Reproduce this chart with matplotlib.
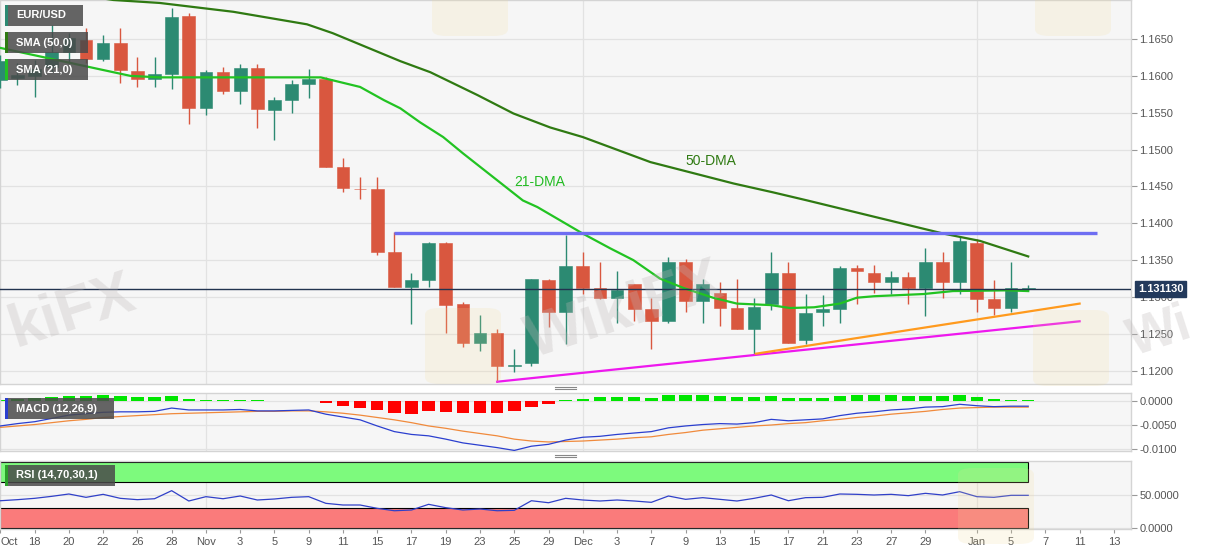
import matplotlib
matplotlib.use("Agg")
import matplotlib.pyplot as plt
from matplotlib.patches import Rectangle, FancyBboxPatch
from matplotlib.ticker import FormatStrFormatter
from matplotlib.transforms import blended_transform_factory

plt.rcParams['font.family'] = ['Liberation Sans', 'DejaVu Sans']

# daily candles, trading days Oct 14 2021 .. Jan 6 2022 (index = position)
opens = [1.1594, 1.1597, 1.1600, 1.1612, 1.1632, 1.1649, 1.1623, 1.1645, 1.1607, 1.1596,
         1.1602, 1.1681, 1.1556, 1.1605, 1.1579, 1.1611, 1.1554, 1.1567, 1.1589, 1.1596,
         1.1477, 1.1447, 1.1446, 1.1361, 1.1314, 1.1323, 1.1373, 1.1290, 1.1237, 1.1251,
         1.1206, 1.1210, 1.1323, 1.1279, 1.1342, 1.1312, 1.1299, 1.1317, 1.1283, 1.1268,
         1.1348, 1.1294, 1.1305, 1.1285, 1.1256, 1.1291, 1.1333, 1.1242, 1.1279, 1.1283,
         1.1339, 1.1333, 1.1320, 1.1327, 1.1312, 1.1348, 1.1320, 1.1373, 1.1297, 1.1285,
         1.1311]
highs = [1.1628, 1.1617, 1.1621, 1.1669, 1.1658, 1.1665, 1.1655, 1.1665, 1.1626, 1.1626,
         1.1692, 1.1685, 1.1608, 1.1612, 1.1616, 1.1616, 1.1571, 1.1594, 1.1609, 1.1598,
         1.1488, 1.1463, 1.1463, 1.1388, 1.1333, 1.1374, 1.1374, 1.1293, 1.1276, 1.1256,
         1.1230, 1.1325, 1.1324, 1.1384, 1.1361, 1.1348, 1.1335, 1.1317, 1.1299, 1.1354,
         1.1351, 1.1325, 1.1320, 1.1324, 1.1299, 1.1361, 1.1348, 1.1304, 1.1302, 1.1342,
         1.1343, 1.1344, 1.1335, 1.1334, 1.1367, 1.1361, 1.1382, 1.1378, 1.1323, 1.1347,
         1.1316]
lows = [1.1583, 1.1587, 1.1571, 1.1605, 1.1619, 1.1617, 1.1620, 1.1590, 1.1585, 1.1585,
        1.1582, 1.1535, 1.1547, 1.1575, 1.1562, 1.1529, 1.1513, 1.1549, 1.1570, 1.1476,
        1.1442, 1.1433, 1.1357, 1.1313, 1.1264, 1.1314, 1.1251, 1.1232, 1.1227, 1.1185,
        1.1198, 1.1207, 1.1259, 1.1236, 1.1304, 1.1297, 1.1265, 1.1267, 1.1229, 1.1265,
        1.1279, 1.1265, 1.1261, 1.1256, 1.1223, 1.1282, 1.1237, 1.1236, 1.1261, 1.1265,
        1.1291, 1.1305, 1.1304, 1.1290, 1.1274, 1.1299, 1.1304, 1.1280, 1.1275, 1.1279,
        1.1310]
closes = [1.1620, 1.1601, 1.1610, 1.1632, 1.1651, 1.1623, 1.1645, 1.1608, 1.1596, 1.1602,
          1.1680, 1.1556, 1.1605, 1.1579, 1.1611, 1.1555, 1.1567, 1.1589, 1.1596, 1.1477,
          1.1448, 1.1446, 1.1361, 1.1313, 1.1323, 1.1373, 1.1289, 1.1237, 1.1251, 1.1206,
          1.1208, 1.1324, 1.1279, 1.1342, 1.1312, 1.1298, 1.1309, 1.1283, 1.1268, 1.1348,
          1.1295, 1.1317, 1.1285, 1.1256, 1.1287, 1.1333, 1.1238, 1.1278, 1.1283, 1.1339,
          1.1335, 1.1320, 1.1327, 1.1312, 1.1348, 1.1320, 1.1376, 1.1297, 1.1285, 1.1312,
          1.1312]
last_price = 1.131130

# moving averages (position, value)
sma50_x = [4, 6.6, 9.3, 13.6, 17.9, 19.4, 23.35, 25.1, 27.85, 29.95, 32.1, 34.0, 37.95,
           42.8, 45.1, 47.1, 55.05, 57.2, 60.0]
sma50_y = [1.1712, 1.1703, 1.1699, 1.1687, 1.1670, 1.1658, 1.1620, 1.1605, 1.1574, 1.1549,
           1.1530, 1.1517, 1.1483, 1.1454, 1.1442, 1.1431, 1.1386, 1.1376, 1.1355]
sma21_x = [0, 7.6, 9.3, 18.7, 21.0, 22.4, 23.35, 24.5, 25.85, 27.0, 30.5, 31.35, 34.0, 35.6,
           36.95, 38.5, 39.9, 41.6, 43.0, 44.95, 46.1, 47.5, 49.0, 50.0, 51.0, 53.9, 55.6,
           58.8, 60.0]
sma21_y = [1.1638, 1.1600, 1.1598, 1.1598, 1.1585, 1.1567, 1.1556, 1.1537, 1.1517, 1.1495,
           1.1431, 1.1422, 1.1386, 1.1366, 1.1350, 1.1325, 1.1312, 1.1299, 1.1291, 1.1289,
           1.1285, 1.1286, 1.1291, 1.1299, 1.1301, 1.1304, 1.1308, 1.1309, 1.1308]

# trend lines
resist_x, resist_y = [23, 64.0], [1.1387, 1.1387]
support1_x, support1_y = [29, 63.0], [1.1185, 1.1267]
support2_x, support2_y = [44.1, 63.0], [1.1223, 1.1291]

# MACD (12,26,9)
macd = [-0.0052, -0.0047, -0.0043, -0.0036, -0.0029, -0.0026, -0.0023, -0.0022, -0.0022, -0.0021,
        -0.0014, -0.0018, -0.0018, -0.0018, -0.0017, -0.0020, -0.0020, -0.0019, -0.0018, -0.0027,
        -0.0033, -0.0039, -0.0052, -0.0064, -0.0070, -0.0073, -0.0080, -0.0088, -0.0093, -0.0098,
        -0.0104, -0.0095, -0.0091, -0.0082, -0.0076, -0.0074, -0.0070, -0.0067, -0.0064, -0.0056,
        -0.0052, -0.0049, -0.0047, -0.0048, -0.0045, -0.0038, -0.0041, -0.0039, -0.0037, -0.0030,
        -0.0025, -0.0022, -0.0018, -0.0016, -0.0012, -0.0011, -0.0006, -0.0009, -0.0011, -0.0010,
        -0.0010]
signal = [-0.0055, -0.0052, -0.0049, -0.0045, -0.0041, -0.0038, -0.0034, -0.0032, -0.0030, -0.0028,
          -0.0026, -0.0025, -0.0024, -0.0023, -0.0022, -0.0021, -0.0021, -0.0020, -0.0020, -0.0022,
          -0.0025, -0.0029, -0.0034, -0.0039, -0.0045, -0.0052, -0.0057, -0.0063, -0.0068, -0.0073,
          -0.0080, -0.0084, -0.0086, -0.0085, -0.0084, -0.0082, -0.0080, -0.0077, -0.0075, -0.0070,
          -0.0066, -0.0061, -0.0058, -0.0055, -0.0052, -0.0050, -0.0047, -0.0045, -0.0041, -0.0038,
          -0.0034, -0.0031, -0.0027, -0.0024, -0.0021, -0.0017, -0.0014, -0.0013, -0.0012, -0.0012,
          -0.0012]
hist = [0.0004, 0.0006, 0.0007, 0.0009, 0.0012, 0.0012, 0.0014, 0.0012, 0.0009, 0.0009,
        0.0012, 0.0006, 0.0004, 0.0004, 0.0004, 0.0003, 0.0002, 0.0002, 0.0002, -0.0004,
        -0.0009, -0.0013, -0.0019, -0.0025, -0.0027, -0.0021, -0.0023, -0.0025, -0.0025, -0.0025,
        -0.0021, -0.0012, -0.0005, 0.0004, 0.0006, 0.0009, 0.0009, 0.0009, 0.0007, 0.0013,
        0.0013, 0.0014, 0.0011, 0.0009, 0.0009, 0.0012, 0.0007, 0.0007, 0.0007, 0.0011,
        0.0013, 0.0013, 0.0013, 0.0011, 0.0011, 0.0011, 0.0013, 0.0009, 0.0005, 0.0004,
        0.0003]

# RSI (14)
rsi = [41.4, 43, 45, 48, 51.5, 46.5, 51, 45, 43, 44.4,
       56.5, 41, 47.5, 44.4, 48.5, 42.5, 44, 46.5, 47.5, 37.5,
       35, 35, 30, 26.4, 27.5, 36, 31, 27.5, 29, 26.4,
       27, 41.4, 38.4, 45, 42.5, 41, 42.5, 41, 39, 48.5,
       43.5, 46, 43.5, 41, 45, 50, 41.4, 46, 46.5, 51.5,
       51, 50, 51, 49, 52.5, 50, 55, 47.5, 46.5, 49.5,
       49.5]

tick_pos = [0, 2, 4, 6, 8, 10, 12, 14, 16, 18, 20, 22, 24, 26, 28, 30, 32, 34, 36, 38, 40,
            42, 44, 46, 48, 50, 52, 54, 57, 59, 61, 63, 65]
tick_lbl = ["Oct", "18", "20", "22", "26", "28", "Nov", "3", "5", "9", "11", "15", "17", "19",
            "23", "25", "29", "Dec", "3", "7", "9", "13", "15", "17", "21", "23", "27", "29",
            "Jan", "5", "7", "11", "13"]
month_starts = [12, 34, 57]

W, H = 1207, 555
UP, DOWN = '#2c8a72', '#d9573f'
BG, GRID, SPINE = '#f6f6f6', '#e2e2e2', '#d4d4d4'
TXT = '#555555'

fig = plt.figure(figsize=(W / 100, H / 100), dpi=100)
fig.patch.set_facecolor('white')

ax = fig.add_axes([0, 1 - 384 / H, 1131 / W, 384 / H])
ax_m = fig.add_axes([0, 1 - 451 / H, 1131 / W, 58 / H], sharex=ax)
ax_r = fig.add_axes([0, 1 - 529 / H, 1131 / W, 68 / H], sharex=ax)

for a in (ax, ax_m, ax_r):
    a.set_facecolor(BG)
    for s in a.spines.values():
        s.set_color(SPINE)
        s.set_linewidth(1.0)
    a.yaxis.tick_right()
    a.tick_params(axis='y', length=4, width=0.8, color='#999999', labelsize=8,
                  labelcolor=TXT, pad=2)
    for m in month_starts:
        a.axvline(m, color=GRID, lw=0.9, zorder=0)
    a.set_axisbelow(True)
    a.grid(axis='y', color=GRID, lw=0.9)

# ---- price panel
n = len(closes)
xs = list(range(n))
for i in xs:
    col = UP if closes[i] >= opens[i] else DOWN
    ax.vlines(i, lows[i], highs[i], color=col, lw=1.0, zorder=3)
    lo = min(opens[i], closes[i])
    h = max(abs(closes[i] - opens[i]), 0.00009)
    ax.bar(i, h, bottom=lo, width=0.74, color=col, edgecolor=col, lw=0.4, zorder=4)

ax.plot(sma50_x, sma50_y, color='#2f7a12', lw=1.6, zorder=5)
ax.plot(sma21_x, sma21_y, color='#22c322', lw=1.6, zorder=5)
ax.plot(resist_x, resist_y, color='#6e6ef2', lw=2.4, zorder=5, solid_capstyle='butt')
ax.plot(support1_x, support1_y, color='#ee18ee', lw=1.6, zorder=5)
ax.plot(support2_x, support2_y, color='#ff9a1e', lw=1.6, zorder=5)
ax.axhline(last_price, color='#22334f', lw=1.0, zorder=6)

ax.text(31.5, 1.14557, "21-DMA", color='#22bb22', fontsize=10, ha='center', va='center', zorder=7)
ax.text(41.5, 1.14842, "50-DMA", color='#2f7a12', fontsize=10, ha='center', va='center', zorder=7)

ax.set_xlim(-0.02, 66.0)
ax.set_ylim(1.11819, 1.17030)
ax.set_yticks([1.1200 + 0.005 * k for k in range(10)])
ax.yaxis.set_major_formatter(FormatStrFormatter('%.4f'))
ax.tick_params(axis='x', which='both', bottom=False, labelbottom=False)

tr = blended_transform_factory(ax.transAxes, ax.transData)
ax.text(1.006, last_price, "1.131130", transform=tr, color='white', fontsize=8,
        fontweight='bold', ha='left', va='center', clip_on=False, zorder=10,
        bbox=dict(boxstyle='square,pad=0.28', facecolor='#233a5c', edgecolor='#233a5c'))

# ---- MACD panel
bar_cols = ['#00e600' if v >= 0 else '#ff0000' for v in hist]
ax_m.bar(xs, hist, width=0.73, color=bar_cols, zorder=2)
ax_m.plot(xs, signal, color='#f08a3c', lw=0.9, zorder=3)
ax_m.plot(xs, macd, color='#2b3fcf', lw=0.9, zorder=4)
ax_m.set_ylim(-0.01052, 0.0018)
ax_m.set_yticks([0.0, -0.005, -0.010])
ax_m.yaxis.set_major_formatter(FormatStrFormatter('%.4f'))
ax_m.tick_params(axis='x', which='both', bottom=False, labelbottom=False)

# ---- RSI panel
ax_r.add_patch(Rectangle((-0.02, 70), 60.02, 30, facecolor='#7dfa7d', edgecolor='black',
                         lw=0.8, zorder=1))
ax_r.add_patch(Rectangle((-0.02, 0), 60.02, 30, facecolor='#fa7b7b', edgecolor='black',
                         lw=0.8, zorder=1))
ax_r.plot(xs, rsi, color='#3040c8', lw=0.9, zorder=3)
ax_r.set_ylim(-1.0, 101)
ax_r.set_yticks([0, 50])
ax_r.yaxis.set_major_formatter(FormatStrFormatter('%.4f'))
ax_r.set_xticks(tick_pos)
ax_r.set_xticklabels(tick_lbl)
ax_r.tick_params(axis='x', length=3, width=0.8, color='#999999', labelsize=8,
                 labelcolor=TXT, pad=3)
ax_r.get_xticklabels()[0].set_horizontalalignment('left')


def px_rect(x0, y0, x1, y1, **kw):
    return Rectangle((x0 / W, 1 - y1 / H), (x1 - x0) / W, (y1 - y0) / H,
                     transform=fig.transFigure, **kw)


def label_box(x0, y0, x1, y1, strip, text):
    fig.add_artist(px_rect(x0, y0, x1, y1, facecolor='#4a4a4a', alpha=0.85,
                           edgecolor='none', zorder=20))
    fig.add_artist(px_rect(x0, y0, x0 + 2.5, y1, facecolor=strip, edgecolor='none', zorder=21))
    fig.text((x0 + 11) / W, 1 - (y0 + y1) / 2 / H, text, color='white', fontsize=8,
             fontweight='bold', ha='left', va='center', zorder=22)


label_box(5, 5, 83, 26, '#2c8a72', "EUR/USD")
label_box(5, 32, 88, 53, '#2f7a12', "SMA (50,0)")
label_box(5, 59, 88, 80, '#22c322', "SMA (21,0)")
label_box(5, 398, 114, 419, '#2b3fcf', "MACD (12,26,9)")
label_box(5, 465, 115, 486, '#2aa02a', "RSI (14,70,30,1)")

# panel resize handles
for yy in (388, 456):
    for dy in (-1.2, 1.2):
        fig.add_artist(plt.Line2D([555 / W, 576 / W], [1 - (yy + dy) / H] * 2,
                                  transform=fig.transFigure, color='#888888', lw=0.8))

# faint watermarks (only the parts visible in the picture)
for (cx, cy, word, fs) in [(72, 312, "kiFX", 44), (625, 312, "WikiFX", 44), (1160, 333, "Wi", 38)]:
    fig.text(cx / W, 1 - cy / H, word, fontsize=fs, fontweight='bold', color='#bdb8b8',
             alpha=0.3, rotation=18, ha='center', va='center', zorder=15)
for (x0, y0) in [(425, 308), (1033, 310), (432, -40), (1035, -40), (958, 468)]:
    fig.add_artist(FancyBboxPatch((x0 / W, 1 - (y0 + 76) / H), 76 / W, 76 / H,
                                  boxstyle='round,pad=0,rounding_size=0.012',
                                  transform=fig.transFigure, facecolor='#f3dc9a',
                                  edgecolor='none', alpha=0.18, zorder=14))

fig.savefig("out.png", dpi=100, facecolor='white')
